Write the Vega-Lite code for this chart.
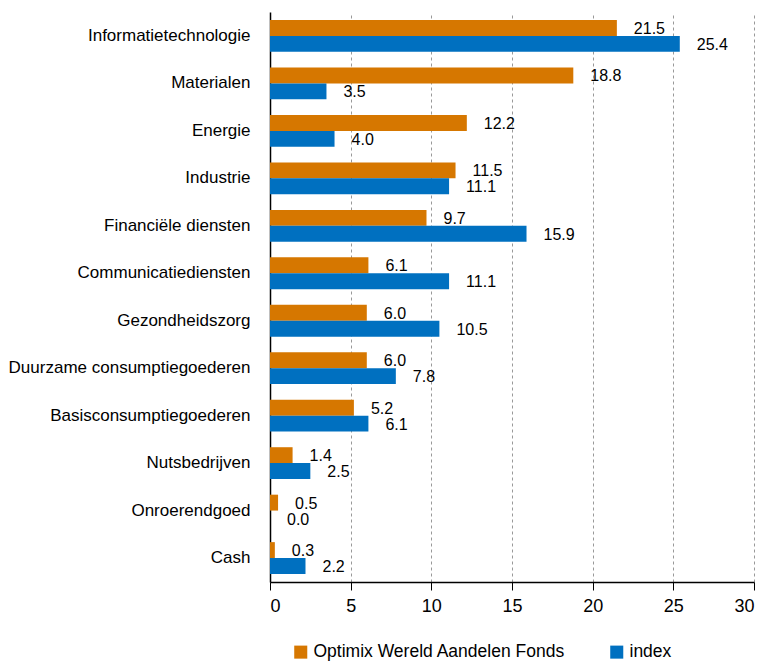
{
  "$schema": "https://vega.github.io/schema/vega-lite/v6.json",
  "width": 484,
  "height": 570,
  "padding": {"left": 8, "top": 12, "right": 5, "bottom": 0},
  "background": "white",
  "config": {
    "view": {"stroke": null},
    "font": "Liberation Sans"
  },
  "data": {
    "values": [
      {"sector": "Informatietechnologie", "serie": "Optimix Wereld Aandelen Fonds", "waarde": 21.5},
      {"sector": "Informatietechnologie", "serie": "index", "waarde": 25.4},
      {"sector": "Materialen", "serie": "Optimix Wereld Aandelen Fonds", "waarde": 18.8},
      {"sector": "Materialen", "serie": "index", "waarde": 3.5},
      {"sector": "Energie", "serie": "Optimix Wereld Aandelen Fonds", "waarde": 12.2},
      {"sector": "Energie", "serie": "index", "waarde": 4.0},
      {"sector": "Industrie", "serie": "Optimix Wereld Aandelen Fonds", "waarde": 11.5},
      {"sector": "Industrie", "serie": "index", "waarde": 11.1},
      {"sector": "Financiële diensten", "serie": "Optimix Wereld Aandelen Fonds", "waarde": 9.7},
      {"sector": "Financiële diensten", "serie": "index", "waarde": 15.9},
      {"sector": "Communicatiediensten", "serie": "Optimix Wereld Aandelen Fonds", "waarde": 6.1},
      {"sector": "Communicatiediensten", "serie": "index", "waarde": 11.1},
      {"sector": "Gezondheidszorg", "serie": "Optimix Wereld Aandelen Fonds", "waarde": 6.0},
      {"sector": "Gezondheidszorg", "serie": "index", "waarde": 10.5},
      {"sector": "Duurzame consumptiegoederen", "serie": "Optimix Wereld Aandelen Fonds", "waarde": 6.0},
      {"sector": "Duurzame consumptiegoederen", "serie": "index", "waarde": 7.8},
      {"sector": "Basisconsumptiegoederen", "serie": "Optimix Wereld Aandelen Fonds", "waarde": 5.2},
      {"sector": "Basisconsumptiegoederen", "serie": "index", "waarde": 6.1},
      {"sector": "Nutsbedrijven", "serie": "Optimix Wereld Aandelen Fonds", "waarde": 1.4},
      {"sector": "Nutsbedrijven", "serie": "index", "waarde": 2.5},
      {"sector": "Onroerendgoed", "serie": "Optimix Wereld Aandelen Fonds", "waarde": 0.5},
      {"sector": "Onroerendgoed", "serie": "index", "waarde": 0.0},
      {"sector": "Cash", "serie": "Optimix Wereld Aandelen Fonds", "waarde": 0.3},
      {"sector": "Cash", "serie": "index", "waarde": 2.2}
    ]
  },
  "encoding": {
    "y": {
      "field": "sector",
      "type": "nominal",
      "sort": null,
      "title": null,
      "scale": {"paddingInner": 0.33, "paddingOuter": 0.17},
      "axis": {
        "ticks": false,
        "domainColor": "black",
        "domainWidth": 1.5,
        "labelFontSize": 17,
        "labelColor": "black",
        "labelPadding": 20,
        "labelLimit": 400
      }
    },
    "yOffset": {
      "field": "serie",
      "type": "nominal",
      "sort": ["Optimix Wereld Aandelen Fonds", "index"],
      "scale": {"paddingInner": 0, "paddingOuter": 0}
    },
    "x": {
      "field": "waarde",
      "type": "quantitative",
      "title": null,
      "scale": {"domain": [0, 30], "nice": false},
      "axis": {
        "values": [0, 5, 10, 15, 20, 25, 30],
        "grid": true,
        "gridDash": [3, 3],
        "gridColor": "#999999",
        "domainColor": "black",
        "domainWidth": 1.5,
        "tickColor": "black",
        "tickSize": 8,
        "labelFontSize": 18,
        "labelColor": "black",
        "labelPadding": 7
      }
    }
  },
  "layer": [
    {
      "mark": {"type": "bar"},
      "encoding": {
        "color": {
          "field": "serie",
          "type": "nominal",
          "sort": ["Optimix Wereld Aandelen Fonds", "index"],
          "scale": {"domain": ["Optimix Wereld Aandelen Fonds", "index"], "range": ["#D67700", "#0070C0"]},
          "legend": {
            "title": null,
            "orient": "none",
            "legendX": 22,
            "legendY": 631,
            "direction": "horizontal",
            "symbolType": "square",
            "symbolSize": 170,
            "symbolStrokeWidth": 0,
            "labelFontSize": 17.5,
            "labelColor": "black",
            "labelLimit": 400,
            "columnPadding": 42
          }
        }
      }
    },
    {
      "mark": {"type": "text", "align": "left", "baseline": "middle", "dx": 17, "dy": 1, "fontSize": 16, "color": "black"},
      "encoding": {
        "text": {"field": "waarde", "type": "quantitative", "format": ".1f"}
      }
    }
  ]
}
